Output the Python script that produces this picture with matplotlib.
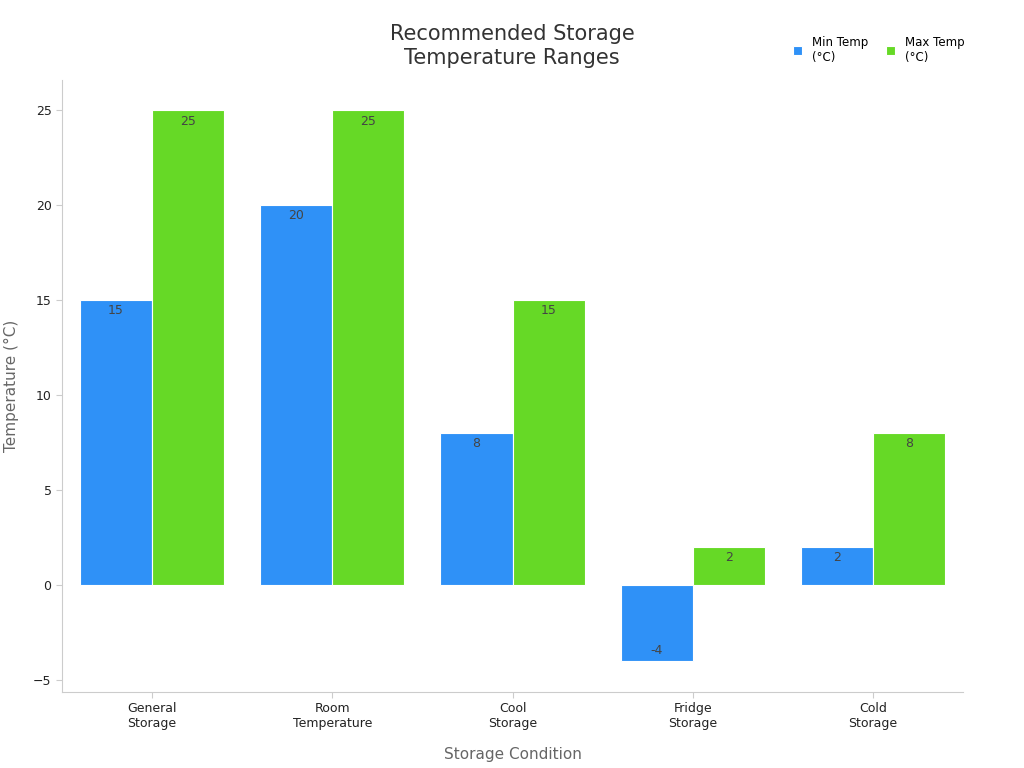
import matplotlib
matplotlib.use("Agg")
import matplotlib.pyplot as plt
import numpy as np

categories = ["General\nStorage", "Room\nTemperature", "Cool\nStorage", "Fridge\nStorage", "Cold\nStorage"]
min_temp = [15, 20, 8, -4, 2]
max_temp = [25, 25, 15, 2, 8]
series_names = ["Min Temp\n(°C)", "Max Temp\n(°C)"]

fig = plt.figure(figsize=(10.24, 7.68), dpi=100)
ax = fig.add_axes([62/1024, 1-692/768, 901/1024, 612/768])
x = np.arange(len(categories))
w = 0.4
colors = ["#2F91F7", "#66D926"]
for i, (vals, c, name) in enumerate(zip([min_temp, max_temp], colors, series_names)):
    bars = ax.bar(x + (i - 0.5) * w, vals, w, color=c, edgecolor="white", linewidth=0.8, label=name)
    for b, v in zip(bars, vals):
        ax.annotate(str(v), (b.get_x() + b.get_width()/2, v), xytext=(0, -3 if v >= 0 else 3),
                    textcoords="offset points", ha="center", va="top" if v >= 0 else "bottom",
                    fontsize=9, color="#444444")
ax.set_xlim(-0.5, 4.5)
ax.set_ylim(-5.63, 26.6)
ax.set_xticks(x)
ax.set_xticklabels(categories, fontsize=9, color="#222222")
ax.set_yticks([-5, 0, 5, 10, 15, 20, 25])
ax.tick_params(axis="y", labelsize=9, colors="#222222", length=4)
ax.tick_params(axis="x", length=4)
for s in ["top", "right"]:
    ax.spines[s].set_visible(False)
for s in ["left", "bottom"]:
    ax.spines[s].set_color("#cccccc")
ax.tick_params(color="#cccccc")
ax.set_xlabel("Storage Condition", fontsize=11, color="#666666", labelpad=12)
ax.set_ylabel("Temperature (°C)", fontsize=11, color="#666666", labelpad=10)
fig.text(512/1024, 1-46/768, "Recommended Storage\nTemperature Ranges", ha="center", va="center",
         fontsize=15, color="#333333", linespacing=1.3)
fig.legend(loc="upper right", bbox_to_anchor=(975/1024, 1-25/768), ncol=2, frameon=False,
           fontsize=8.5, handlelength=0.8, handleheight=0.8, columnspacing=1.5)
fig.savefig("out.png", dpi=100)
